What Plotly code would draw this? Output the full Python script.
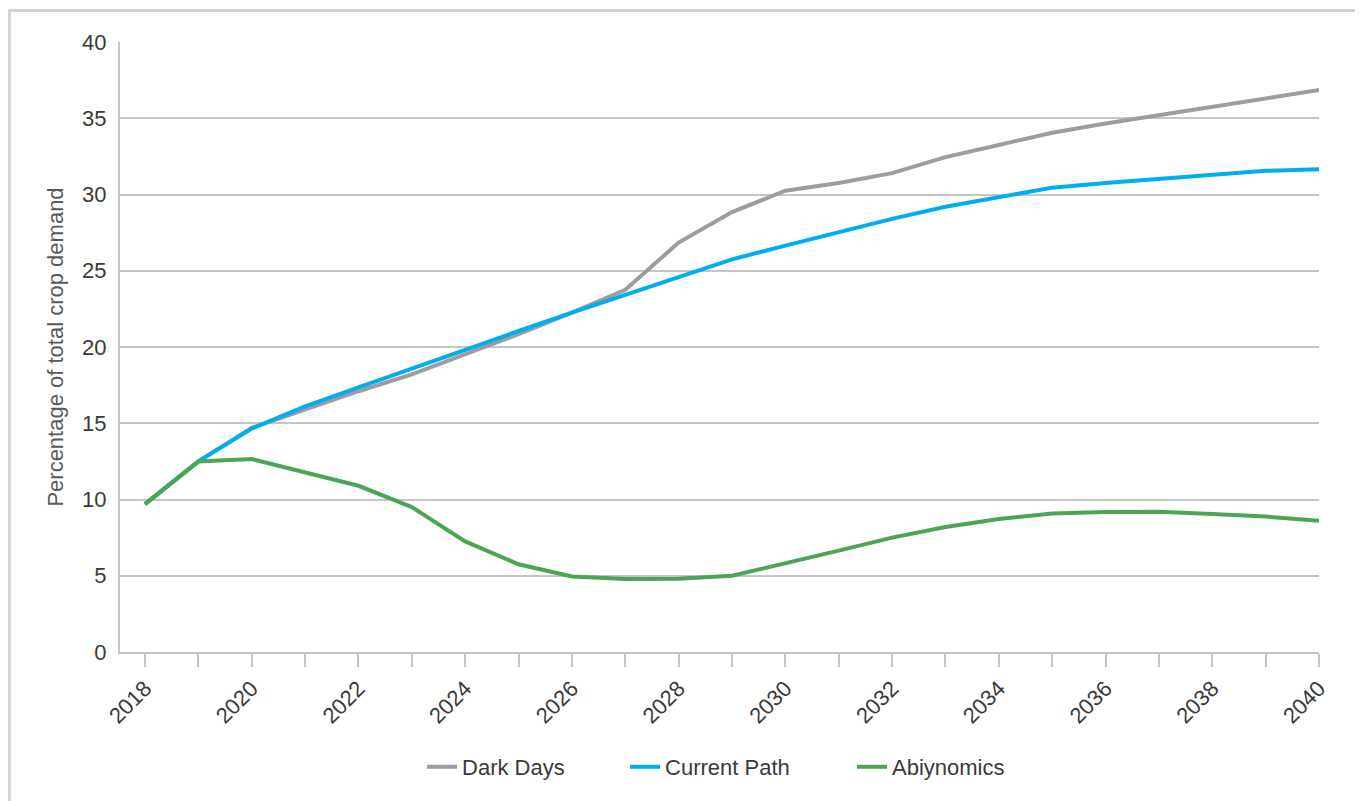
import plotly.graph_objects as go

years = list(range(2018, 2041))
dark_days = [9.7, 12.5, 14.7, 15.9, 17.1, 18.2, 19.5, 20.85, 22.25, 23.75, 26.85, 28.85,
             30.25, 30.75, 31.4, 32.45, 33.25, 34.05, 34.65, 35.2, 35.8, 36.35, 36.85]
current_path = [9.7, 12.5, 14.65, 16.1, 17.35, 18.6, 19.85, 21.05, 22.25, 23.4, 24.6, 25.75,
                26.65, 27.55, 28.4, 29.2, 29.85, 30.45, 30.75, 31.0, 31.3, 31.55, 31.65]
abiynomics = [9.7, 12.5, 12.65, 11.8, 10.9, 9.5, 7.25, 5.75, 4.95, 4.78, 4.8, 5.0,
              5.8, 6.65, 7.5, 8.2, 8.72, 9.08, 9.18, 9.2, 9.05, 8.88, 8.6]
series_names = ["Dark Days", "Current Path", "Abiynomics"]
series_colors = ["#9d9d9f", "#00aeef", "#4ca553"]
y_title = "Percentage of total crop demand"

FONT = "Liberation Sans"
TXT = "#3a3a3a"
FS = 22

fig = go.Figure()
legend_ids = ["legend", "legend2", "legend3"]
for name, vals, col, lg in zip(series_names, [dark_days, current_path, abiynomics],
                               series_colors, legend_ids):
    fig.add_trace(go.Scatter(x=years, y=vals, mode="lines", name=name,
                             line=dict(color=col, width=4), legend=lg))

leg_common = dict(orientation="h", yanchor="middle", y=-0.1885, xanchor="left",
                  font=dict(family=FONT, size=FS, color=TXT), bgcolor="rgba(0,0,0,0)")
fig.update_layout(
    width=1355, height=793,
    margin=dict(l=112, r=44, t=34, b=149),
    paper_bgcolor="white", plot_bgcolor="white",
    font=dict(family=FONT, size=FS, color=TXT),
    showlegend=True,
    legend=dict(x=0.2519, **leg_common),
    legend2=dict(x=0.4212, **leg_common),
    legend3=dict(x=0.6105, **leg_common),
    xaxis=dict(range=[2017.531, 2040], tick0=2018, dtick=2, tickangle=-45,
               ticks="outside", ticklen=13, tickwidth=1.5, tickcolor="#c4c4c4",
               minor=dict(dtick=1, tick0=2018, ticks="outside", ticklen=13,
                          tickwidth=1.5, tickcolor="#c4c4c4", showgrid=False),
               showgrid=False, zeroline=False, showline=True, linecolor="#c4c4c4",
               linewidth=2, tickfont=dict(family=FONT, size=FS, color=TXT)),
    yaxis=dict(range=[0, 40], dtick=5, showgrid=True, gridcolor="#c6c6c8",
               gridwidth=1.6, zeroline=False, showline=True, linecolor="#c4c4c4",
               linewidth=2, ticks="", ticklabelstandoff=7,
               tickfont=dict(family=FONT, size=FS, color=TXT),
               title=dict(text=y_title, standoff=12,
                          font=dict(family=FONT, size=FS, color="#595959"))),
    shapes=[dict(type="rect", xref="paper", yref="paper",
                 x0=-0.0922, y0=-0.5, x1=1.2, y1=1.0516,
                 line=dict(color="#d4d4d4", width=3), fillcolor="rgba(0,0,0,0)",
                 layer="below")],
)
fig.write_html("out.html")
